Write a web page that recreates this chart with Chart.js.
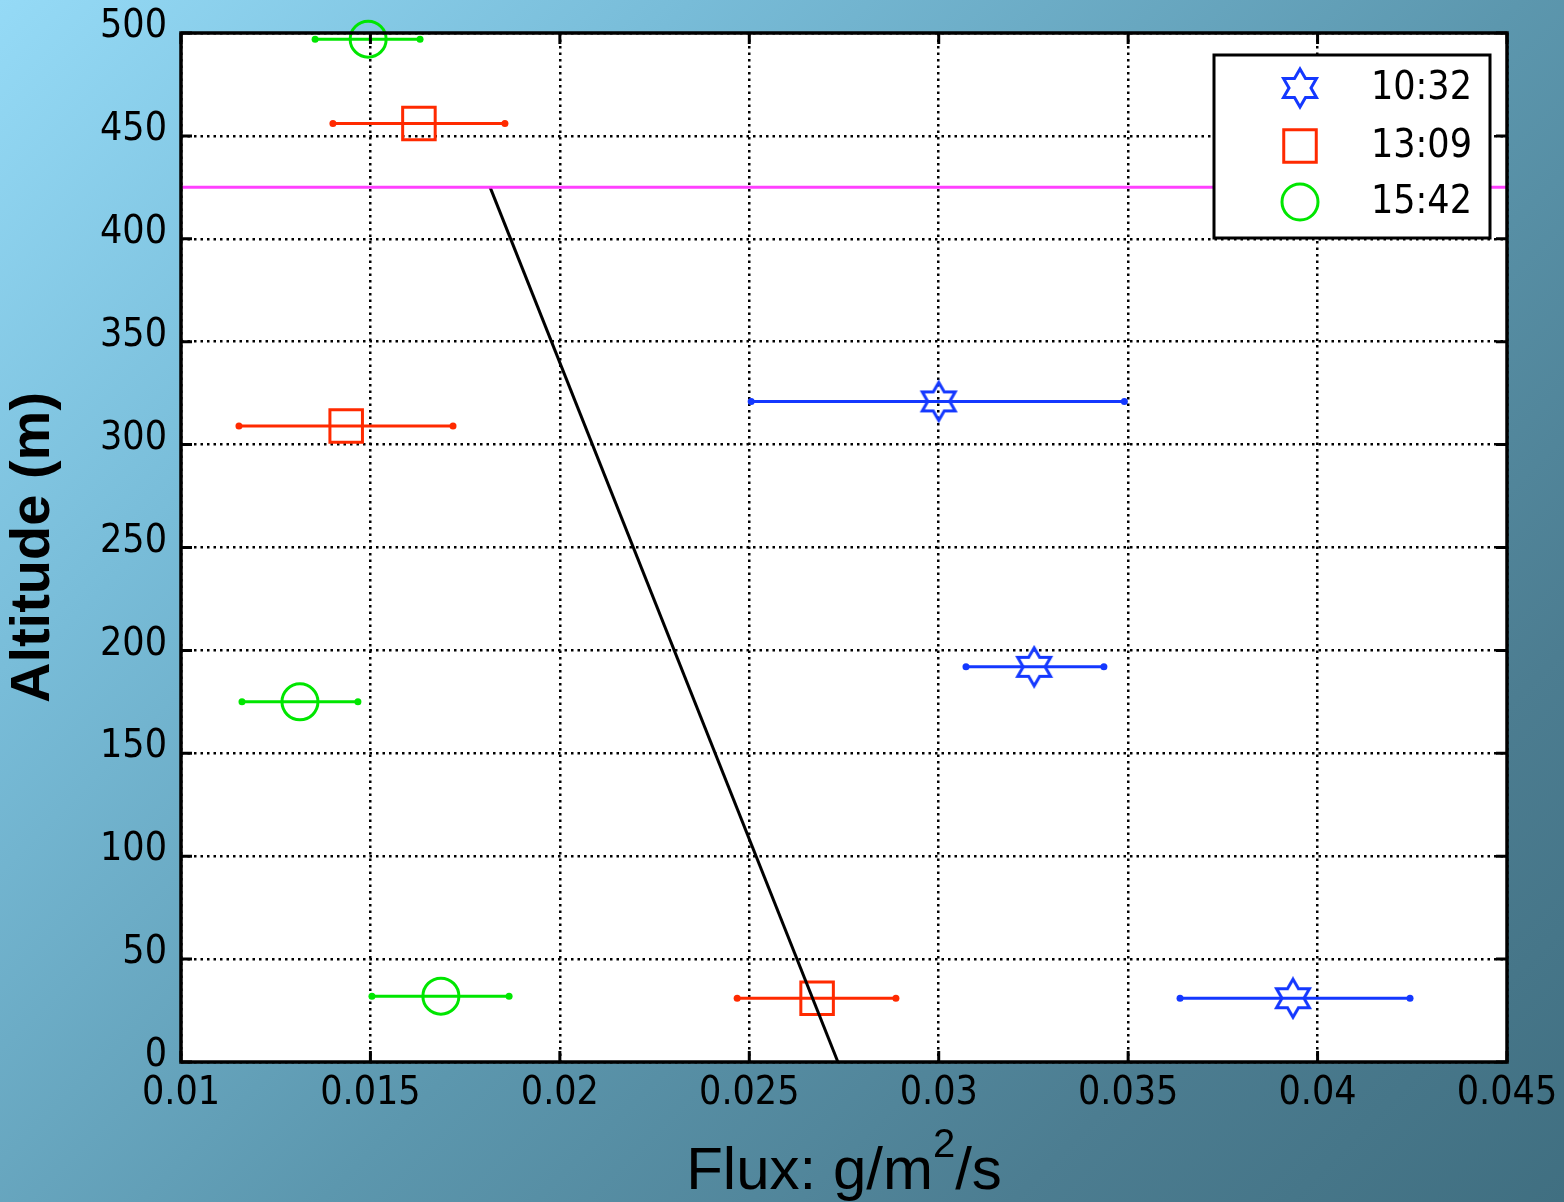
<!DOCTYPE html>
<html>
<head>
<meta charset="utf-8">
<script src="https://cdn.jsdelivr.net/npm/chart.js@4.4.1/dist/chart.umd.min.js"></script>
<style>
  html, body { margin: 0; padding: 0; }
  body {
    width: 1564px; height: 1202px; overflow: hidden;
    background: linear-gradient(135deg, #95daf6 0%, #78bcd8 25%, #5c97ae 55%, #4c7d91 80%, #406f81 100%);
  }
  #wrap { width: 1564px; height: 1202px; }
</style>
</head>
<body>
<div id="wrap"><canvas id="chart" width="1564" height="1202"></canvas></div>
<script>
// series labels
const times = ["10:32", "13:09", "15:42"];

// 10:32 (blue stars)
const flux1032 = [0.0300, 0.03252, 0.03935];
const alt1032 = [321, 192, 31];
const low1032 = [0.02505, 0.03072, 0.03637];
const high1032 = [0.0349, 0.03436, 0.04244];

// 13:09 (red squares)
const flux1309 = [0.01628, 0.01436, 0.02679];
const alt1309 = [456, 309, 31];
const low1309 = [0.01401, 0.01153, 0.02468];
const high1309 = [0.01855, 0.01718, 0.02887];

// 15:42 (green circles)
const flux1542 = [0.01494, 0.01314, 0.01686];
const alt1542 = [497, 175, 32];
const low1542 = [0.01354, 0.01161, 0.01504];
const high1542 = [0.01631, 0.01467, 0.01866];

// boundary layer top and fitted line
const boundaryAlt = 425;
const fitFlux = [0.01816, 0.02734];
const fitAlt = [425, 0];

const xTicks = [0.01, 0.015, 0.02, 0.025, 0.03, 0.035, 0.04, 0.045];
const yTicks = [0, 50, 100, 150, 200, 250, 300, 350, 400, 450, 500];

const BLUE = "#1438ff", RED = "#ff2a00", GREEN = "#00e600";
const FONT = "'DejaVu Sans Condensed', 'DejaVu Sans', sans-serif";
const TITLE_FONT = "'Liberation Sans', Arial, sans-serif";

function starImage(color) {
  const c = document.createElement("canvas");
  c.width = 44; c.height = 44;
  const g = c.getContext("2d");
  g.strokeStyle = color; g.lineWidth = 3; g.lineJoin = "miter";
  g.beginPath();
  for (let i = 0; i < 12; i++) {
    const r = i % 2 === 0 ? 19 : 11;
    const a = -Math.PI / 2 + i * Math.PI / 6;
    const px = 22 + r * Math.cos(a), py = 22 + r * Math.sin(a);
    if (i === 0) g.moveTo(px, py); else g.lineTo(px, py);
  }
  g.closePath();
  g.stroke();
  return c;
}
const star = starImage(BLUE);

function errorBars(low, high, alt, color) {
  return low.map((lo, i) => ({
    type: "scatter",
    data: [{ x: lo, y: alt[i] }, { x: high[i], y: alt[i] }],
    showLine: true,
    borderColor: color, borderWidth: 3,
    pointRadius: 3.5, pointBackgroundColor: color, pointBorderWidth: 0,
    clip: false
  }));
}

function markers(flux, alt, color, style, radius, label) {
  return {
    type: "scatter",
    label: label,
    data: flux.map((f, i) => ({ x: f, y: alt[i] })),
    pointStyle: style, pointRadius: radius,
    borderColor: color, backgroundColor: "rgba(0,0,0,0)",
    pointBorderWidth: 3, showLine: false, clip: false
  };
}

const datasets = [
  {
    type: "scatter",
    data: [{ x: 0.01, y: boundaryAlt }, { x: 0.045, y: boundaryAlt }],
    showLine: true, borderColor: "#ff40ff", borderWidth: 3, pointRadius: 0, clip: false
  },
  {
    type: "scatter",
    data: fitFlux.map((f, i) => ({ x: f, y: fitAlt[i] })),
    showLine: true, borderColor: "#000", borderWidth: 3, pointRadius: 0
  },
  ...errorBars(low1032, high1032, alt1032, BLUE),
  ...errorBars(low1309, high1309, alt1309, RED),
  ...errorBars(low1542, high1542, alt1542, GREEN),
  markers(flux1032, alt1032, BLUE, star, 19, times[0]),
  markers(flux1309, alt1309, RED, "rect", 23, times[1]),
  markers(flux1542, alt1542, GREEN, "circle", 18, times[2])
];

const frame = {
  id: "frame",
  beforeDraw(chart) {
    const { ctx, chartArea: a } = chart;
    ctx.save();
    ctx.fillStyle = "#fff";
    ctx.fillRect(a.left, a.top, a.right - a.left, a.bottom - a.top);
    ctx.restore();
  },
  afterDatasetsDraw(chart) {
    const { ctx, chartArea: a, scales } = chart;
    ctx.save();
    ctx.strokeStyle = "#000";
    ctx.lineWidth = 3;
    ctx.beginPath();
    xTicks.forEach(v => {
      const px = scales.x.getPixelForValue(v);
      ctx.moveTo(px, a.bottom); ctx.lineTo(px, a.bottom - 11);
      ctx.moveTo(px, a.top); ctx.lineTo(px, a.top + 11);
    });
    yTicks.forEach(v => {
      const py = scales.y.getPixelForValue(v);
      ctx.moveTo(a.left, py); ctx.lineTo(a.left + 11, py);
      ctx.moveTo(a.right, py); ctx.lineTo(a.right - 11, py);
    });
    ctx.stroke();
    ctx.lineWidth = 3.5;
    ctx.strokeRect(a.left, a.top, a.right - a.left, a.bottom - a.top);

    // legend
    const lx = 1214, ly = 55, lw = 276, lh = 183;
    ctx.fillStyle = "#fff";
    ctx.fillRect(lx, ly, lw, lh);
    ctx.lineWidth = 3;
    ctx.strokeRect(lx, ly, lw, lh);
    const rows = [88, 146, 202];
    const mx = 1300;
    ctx.font = "39px " + FONT;
    ctx.textAlign = "right";
    ctx.textBaseline = "middle";
    const marks = chart.data.datasets.filter(d => d.label);
    marks.forEach((d, i) => {
      ctx.strokeStyle = d.borderColor;
      ctx.lineWidth = 3;
      ctx.beginPath();
      if (d.pointStyle === "rect") {
        const s = d.pointRadius * Math.SQRT1_2;
        ctx.rect(mx - s, rows[i] - s, 2 * s, 2 * s);
        ctx.stroke();
      } else if (d.pointStyle === "circle") {
        ctx.arc(mx, rows[i], d.pointRadius, 0, Math.PI * 2);
        ctx.stroke();
      } else {
        ctx.drawImage(d.pointStyle, mx - d.pointStyle.width / 2, rows[i] - d.pointStyle.height / 2);
      }
      ctx.fillStyle = "#000";
      ctx.fillText(d.label, 1472, rows[i] + 1);
    });

    // x axis title with superscript
    const cx = (a.left + a.right) / 2, ty = 1172;
    ctx.textAlign = "left";
    ctx.textBaseline = "middle";
    const big = "60px " + TITLE_FONT, small = "40px " + TITLE_FONT;
    ctx.font = big;
    const w1 = ctx.measureText("Flux: g/m").width, w3 = ctx.measureText("/s").width;
    ctx.font = small;
    const w2 = ctx.measureText("2").width;
    let x0 = cx - (w1 + w2 + w3) / 2;
    ctx.font = big;
    ctx.fillText("Flux: g/m", x0, ty);
    ctx.font = small;
    ctx.fillText("2", x0 + w1, ty - 26);
    ctx.font = big;
    ctx.fillText("/s", x0 + w1 + w2, ty);
    ctx.restore();
  }
};

new Chart(document.getElementById("chart"), {
  type: "scatter",
  data: { datasets },
  options: {
    responsive: false,
    animation: false,
    events: [],
    layout: { padding: { left: 0, top: 33, right: 57, bottom: 0 } },
    plugins: { legend: { display: false }, tooltip: { enabled: false } },
    scales: {
      x: {
        type: "linear", min: 0.01, max: 0.045,
        afterBuildTicks: s => { s.ticks = xTicks.map(v => ({ value: v })); },
        afterFit: s => { s.height = 140; s.paddingLeft = 0; s.paddingRight = 0; },
        border: { display: false, dash: [2.5, 4] },
        grid: { color: "#000", lineWidth: 2.5, drawTicks: false },
        ticks: { color: "#000", padding: 8, font: { family: FONT, size: 39 }, maxRotation: 0,
                 callback: v => String(v) }
      },
      y: {
        type: "linear", min: 0, max: 500,
        afterBuildTicks: s => { s.ticks = yTicks.map(v => ({ value: v })); },
        afterFit: s => { s.width = 181; s.paddingTop = 0; s.paddingBottom = 0; },
        border: { display: false, dash: [2.5, 4] },
        grid: { color: "#000", lineWidth: 2.5, drawTicks: false },
        ticks: { color: "#000", padding: 14, labelOffset: -6, font: { family: FONT, size: 39 },
                 callback: v => String(v) },
        title: { display: true, text: "Altitude (m)", color: "#000", padding: { top: 0, bottom: 0 },
                 font: { family: TITLE_FONT, size: 56, weight: "bold" } }
      }
    }
  },
  plugins: [frame]
});
</script>
</body>
</html>
